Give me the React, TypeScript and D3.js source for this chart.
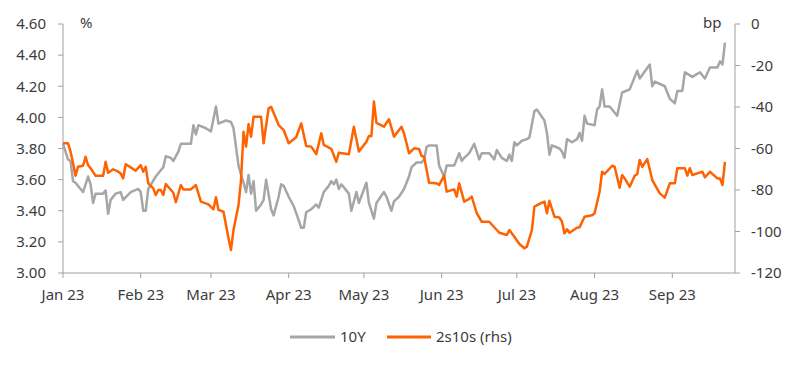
import * as d3 from "d3";

// 10Y yield (%), left axis
const tenY: [string, number][] = [
  ["01-01", 3.83], ["01-03", 3.73], ["01-04", 3.72], ["01-05", 3.59], ["01-06", 3.58],
  ["01-08", 3.54], ["01-09", 3.52], ["01-11", 3.62], ["01-12", 3.57], ["01-13", 3.45],
  ["01-14", 3.51], ["01-17", 3.51], ["01-18", 3.53], ["01-19", 3.38], ["01-20", 3.47],
  ["01-22", 3.51], ["01-24", 3.52], ["01-25", 3.47], ["01-28", 3.52], ["01-31", 3.54],
  ["02-01", 3.52], ["02-02", 3.4], ["02-03", 3.4], ["02-04", 3.54], ["02-07", 3.62],
  ["02-09", 3.66], ["02-10", 3.68], ["02-11", 3.75], ["02-13", 3.74], ["02-14", 3.72],
  ["02-16", 3.78], ["02-17", 3.83], ["02-18", 3.83], ["02-21", 3.83], ["02-22", 3.95],
  ["02-23", 3.89], ["02-24", 3.95], ["02-27", 3.93], ["03-01", 3.91], ["03-03", 4.07],
  ["03-04", 3.96], ["03-07", 3.98], ["03-09", 3.97], ["03-10", 3.93], ["03-11", 3.81],
  ["03-12", 3.69], ["03-13", 3.63], ["03-14", 3.58], ["03-15", 3.52], ["03-16", 3.63],
  ["03-17", 3.51], ["03-18", 3.59], ["03-19", 3.4], ["03-21", 3.44], ["03-22", 3.47],
  ["03-23", 3.6], ["03-25", 3.41], ["03-26", 3.37], ["03-28", 3.49], ["03-29", 3.57],
  ["03-30", 3.56], ["04-01", 3.49], ["04-03", 3.43], ["04-05", 3.34], ["04-06", 3.29],
  ["04-07", 3.29], ["04-08", 3.39], ["04-10", 3.41], ["04-12", 3.44], ["04-13", 3.42],
  ["04-15", 3.52], ["04-17", 3.56], ["04-18", 3.59], ["04-19", 3.57], ["04-20", 3.6],
  ["04-21", 3.54], ["04-22", 3.57], ["04-25", 3.51], ["04-26", 3.4], ["04-28", 3.52],
  ["04-29", 3.45], ["05-02", 3.58], ["05-03", 3.45], ["05-05", 3.35], ["05-06", 3.45],
  ["05-09", 3.52], ["05-10", 3.49], ["05-12", 3.4], ["05-13", 3.46], ["05-15", 3.49],
  ["05-17", 3.54], ["05-19", 3.62], ["05-20", 3.68], ["05-22", 3.71], ["05-24", 3.71],
  ["05-25", 3.73], ["05-26", 3.81], ["05-27", 3.82], ["05-30", 3.82], ["05-31", 3.69],
  ["06-02", 3.62], ["06-03", 3.69], ["06-06", 3.69], ["06-08", 3.77], ["06-09", 3.72],
  ["06-10", 3.74], ["06-12", 3.77], ["06-14", 3.83], ["06-15", 3.78], ["06-16", 3.73],
  ["06-17", 3.77], ["06-20", 3.77], ["06-22", 3.73], ["06-23", 3.79], ["06-25", 3.74],
  ["06-27", 3.72], ["06-28", 3.76], ["06-29", 3.72], ["06-30", 3.84], ["07-01", 3.82],
  ["07-03", 3.85], ["07-05", 3.86], ["07-06", 3.87], ["07-08", 4.04], ["07-09", 4.05],
  ["07-12", 3.98], ["07-13", 3.9], ["07-14", 3.76], ["07-15", 3.82], ["07-18", 3.8],
  ["07-19", 3.78], ["07-20", 3.74], ["07-21", 3.86], ["07-23", 3.84], ["07-25", 3.86],
  ["07-26", 3.9], ["07-27", 3.85], ["07-28", 4.01], ["07-29", 3.96], ["08-01", 3.95],
  ["08-02", 4.05], ["08-03", 4.07], ["08-04", 4.18], ["08-05", 4.07], ["08-07", 4.07],
  ["08-10", 4.01], ["08-12", 4.16], ["08-15", 4.18], ["08-18", 4.3], ["08-19", 4.25],
  ["08-23", 4.34], ["08-24", 4.2], ["08-25", 4.23], ["08-29", 4.2], ["08-31", 4.12],
  ["09-02", 4.09], ["09-03", 4.17], ["09-05", 4.17], ["09-06", 4.29], ["09-09", 4.26],
  ["09-12", 4.29], ["09-14", 4.25], ["09-16", 4.32], ["09-19", 4.32], ["09-20", 4.36],
  ["09-21", 4.34], ["09-22", 4.48],
];

// 2s10s spread (bp), right axis
const twoTen: [string, number][] = [
  ["01-01", -57.5], ["01-03", -57.5], ["01-04", -61.5], ["01-05", -67], ["01-06", -73.1],
  ["01-07", -68.8], ["01-09", -68.3], ["01-10", -64], ["01-11", -68], ["01-12", -69.5],
  ["01-14", -73.1], ["01-17", -73.1], ["01-18", -66.4], ["01-19", -71.7], ["01-21", -70],
  ["01-23", -71.2], ["01-24", -72], ["01-25", -74.4], ["01-26", -67.6], ["01-28", -69.1],
  ["01-30", -70.7], ["02-01", -68], ["02-02", -71.2], ["02-03", -68.8], ["02-04", -76.8],
  ["02-06", -79.2], ["02-07", -82.4], ["02-08", -80], ["02-09", -80], ["02-10", -82.4],
  ["02-11", -77.1], ["02-14", -81.3], ["02-15", -85.9], ["02-17", -77.6], ["02-18", -79.7],
  ["02-21", -79.7], ["02-23", -77.6], ["02-25", -85.6], ["02-28", -86.9], ["03-02", -89.3],
  ["03-03", -83.5], ["03-04", -89.6], ["03-06", -90.5], ["03-08", -103.3], ["03-09", -108.9],
  ["03-10", -99.3], ["03-12", -87.2], ["03-13", -75.2], ["03-14", -51.9], ["03-15", -59.1],
  ["03-16", -48.2], ["03-17", -54.3], ["03-18", -44.7], ["03-21", -44.7], ["03-22", -57.5],
  ["03-24", -40.6], ["03-25", -39.9], ["03-28", -48.7], ["03-30", -51.1], ["04-01", -57.5],
  ["04-04", -54.6], ["04-06", -47.9], ["04-08", -58.8], ["04-10", -59.1], ["04-12", -62.7],
  ["04-14", -52.7], ["04-15", -58.3], ["04-18", -60.2], ["04-20", -66.4], ["04-21", -62],
  ["04-25", -62.8], ["04-27", -49.5], ["04-29", -61.5], ["05-02", -56.7], ["05-03", -54],
  ["05-04", -54], ["05-05", -37.4], ["05-06", -47.6], ["05-09", -49.5], ["05-11", -45.9],
  ["05-13", -54.3], ["05-16", -49.5], ["05-17", -52.7], ["05-19", -62.3], ["05-21", -59.9],
  ["05-23", -60.2], ["05-24", -63.6], ["05-25", -64], ["05-27", -76.5], ["05-30", -76.8],
  ["05-31", -77.6], ["06-02", -73.1], ["06-03", -80.8], ["06-06", -79.7], ["06-07", -83.2],
  ["06-08", -76.8], ["06-10", -85.6], ["06-12", -84.3], ["06-13", -83.2], ["06-15", -91.2],
  ["06-17", -95.3], ["06-20", -95.3], ["06-24", -100.6], ["06-27", -101.7], ["06-28", -99.3],
  ["06-30", -102.5], ["07-02", -106], ["07-04", -108.1], ["07-05", -107.3], ["07-07", -99.3],
  ["07-08", -88], ["07-11", -86.1], ["07-12", -85.6], ["07-13", -91.2], ["07-14", -85.2],
  ["07-16", -92.9], ["07-18", -93.3], ["07-19", -95.3], ["07-20", -100.9], ["07-21", -98.9],
  ["07-22", -100.6], ["07-25", -98.2], ["07-26", -98], ["07-28", -92.9], ["07-31", -92.2],
  ["08-01", -91.2], ["08-03", -80.8], ["08-04", -71.2], ["08-05", -72.3], ["08-08", -68.3],
  ["08-09", -68.8], ["08-11", -78.9], ["08-12", -72.8], ["08-13", -74.4], ["08-15", -78.4],
  ["08-17", -73.1], ["08-18", -72.4], ["08-19", -65.5], ["08-20", -68.8], ["08-22", -65.1],
  ["08-24", -75.2], ["08-27", -81.6], ["08-29", -83.7], ["08-31", -76.8], ["09-02", -76.8],
  ["09-03", -69.5], ["09-06", -69.5], ["09-07", -73.1], ["09-08", -69.5], ["09-09", -72.8],
  ["09-11", -72], ["09-13", -71.2], ["09-14", -73.9], ["09-16", -71.2], ["09-19", -74.4],
  ["09-20", -74.4], ["09-21", -77.6], ["09-22", -66.4],
];

const leftTicks = [3.0, 3.2, 3.4, 3.6, 3.8, 4.0, 4.2, 4.4, 4.6];
const rightTicks = [0, -20, -40, -60, -80, -100, -120];
const monthTicks = ["01-01", "02-01", "03-01", "04-01", "05-01", "06-01", "07-01", "08-01", "09-01"];
const monthLabels = ["Jan 23", "Feb 23", "Mar 23", "Apr 23", "May 23", "Jun 23", "Jul 23", "Aug 23", "Sep 23"];

const GREY = "#a6a6a6";
const ORANGE = "#ff6200";
const AXIS = "#a0a0a0";
const TEXT = "#3c3c3c";
const FONT = "'Noto Sans', sans-serif";
const FS = 15;

const toDate = (md: string) => new Date(`2023-${md}T00:00:00`);

export default function App() {
  const width = 800;
  const height = 368;
  const left = 63;
  const right = 735;
  const top = 24;
  const bottom = 273;

  const x = d3
    .scaleTime()
    .domain([toDate("01-01"), toDate("09-26")])
    .range([left, right]);
  const yL = d3.scaleLinear().domain([3.0, 4.6]).range([bottom, top]);
  const yR = d3.scaleLinear().domain([-120, 0]).range([bottom, top]);

  const lineL = d3
    .line<[string, number]>()
    .x((d) => x(toDate(d[0])))
    .y((d) => yL(d[1]));
  const lineR = d3
    .line<[string, number]>()
    .x((d) => x(toDate(d[0])))
    .y((d) => yR(d[1]));

  return (
    <svg
      width={width}
      height={height}
      style={{ position: "absolute", left: 0, top: 0, background: "#fff" }}
      fontFamily={FONT}
    >
      {/* axes */}
      <line x1={left} x2={left} y1={top} y2={bottom} stroke={AXIS} />
      <line x1={right} x2={right} y1={top} y2={bottom} stroke={AXIS} />
      <line x1={left} x2={right} y1={bottom} y2={bottom} stroke={AXIS} />

      {leftTicks.map((t) => (
        <g key={"l" + t}>
          <line x1={left - 5} x2={left} y1={yL(t)} y2={yL(t)} stroke={AXIS} />
          <text x={46} y={yL(t)} dy="0.35em" textAnchor="end" fontSize={FS} fill={TEXT}>
            {t.toFixed(2)}
          </text>
        </g>
      ))}
      {rightTicks.map((t) => (
        <g key={"r" + t}>
          <line x1={right} x2={right + 5} y1={yR(t)} y2={yR(t)} stroke={AXIS} />
          <text x={751} y={yR(t)} dy="0.35em" textAnchor="start" fontSize={FS} fill={TEXT}>
            {t}
          </text>
        </g>
      ))}
      {monthTicks.map((m, i) => (
        <g key={m}>
          <line x1={x(toDate(m))} x2={x(toDate(m))} y1={bottom} y2={bottom + 5} stroke={AXIS} />
          <text x={x(toDate(m))} y={300} textAnchor="middle" fontSize={FS} fill={TEXT}>
            {monthLabels[i]}
          </text>
        </g>
      ))}

      <text x={80} y={28} fontSize={FS} fill={TEXT}>%</text>
      <text x={703} y={28} fontSize={FS} fill={TEXT}>bp</text>

      {/* series */}
      <path d={lineL(tenY) ?? ""} fill="none" stroke={GREY} strokeWidth={2.5} strokeLinejoin="round" />
      <path d={lineR(twoTen) ?? ""} fill="none" stroke={ORANGE} strokeWidth={2.5} strokeLinejoin="round" />

      {/* legend */}
      <line x1={290} x2={335} y1={337} y2={337} stroke={GREY} strokeWidth={3} />
      <text x={340} y={337} dy="0.35em" fontSize={FS} fill={TEXT}>10Y</text>
      <line x1={387} x2={431} y1={337} y2={337} stroke={ORANGE} strokeWidth={3} />
      <text x={436} y={337} dy="0.35em" fontSize={FS} fill={TEXT}>2s10s (rhs)</text>
    </svg>
  );
}
